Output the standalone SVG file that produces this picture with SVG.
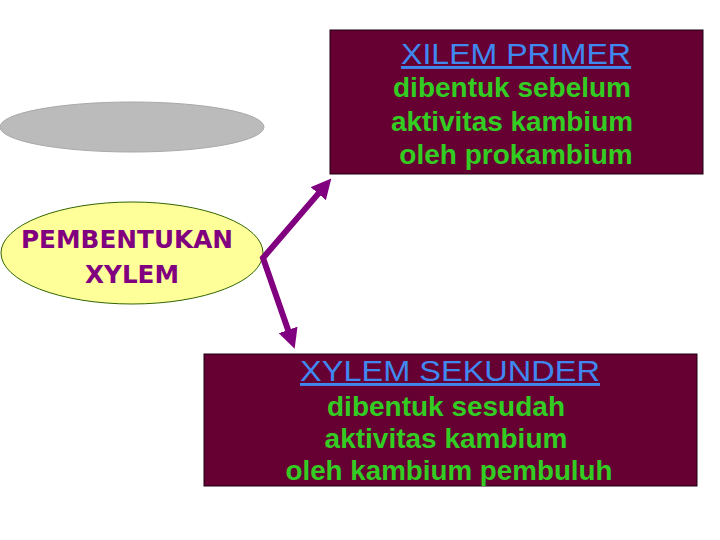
<svg xmlns="http://www.w3.org/2000/svg" width="720" height="540" viewBox="0 0 720 540">
<style>
.box{fill:#660033;stroke:#1a0010;stroke-width:1}
.title{font-family:"Liberation Sans",Arial,sans-serif;font-size:29px;fill:#3f88f0;text-decoration:underline;text-anchor:middle}
.body{font-family:"Liberation Sans",Arial,sans-serif;font-size:28px;font-weight:bold;fill:#33cc22;text-anchor:middle}
.lbl{font-family:"DejaVu Sans",sans-serif;font-size:25px;font-weight:bold;fill:#800080;text-anchor:middle}
.conn{fill:none;stroke:#800080;stroke-width:6;stroke-linejoin:miter}
</style>
<defs>
<marker id="ah" viewBox="0 0 20 20" refX="8" refY="10" markerWidth="20" markerHeight="20" markerUnits="userSpaceOnUse" orient="auto-start-reverse">
<path d="M0,0 L20,10 L0,20 z" fill="#800080"/>
</marker>
</defs>
<rect width="720" height="540" fill="#ffffff"/>
<g id="grey-ellipse">
<ellipse cx="132" cy="127" rx="132" ry="25" fill="#bbbbbb" stroke="#a8a8a8" stroke-width="1"/>
</g>
<g id="pembentukan">
<ellipse cx="132" cy="253" rx="131" ry="51" fill="#ffff99" stroke="#336600" stroke-width="1"/>
<text class="lbl" x="127" y="248" textLength="212" lengthAdjust="spacingAndGlyphs">PEMBENTUKAN</text>
<text class="lbl" x="132" y="283" textLength="94" lengthAdjust="spacingAndGlyphs">XYLEM</text>
</g>
<g id="xilem-primer">
<rect class="box" x="330" y="30" width="373" height="144"/>
<text class="title" x="516" y="64" textLength="230" lengthAdjust="spacingAndGlyphs">XILEM PRIMER</text>
<text class="body" x="512" y="97" textLength="238" lengthAdjust="spacingAndGlyphs">dibentuk sebelum</text>
<text class="body" x="512" y="131" textLength="242" lengthAdjust="spacingAndGlyphs">aktivitas kambium</text>
<text class="body" x="516" y="164">oleh prokambium</text>
</g>
<g id="xylem-sekunder">
<rect class="box" x="204" y="354" width="493" height="132"/>
<text class="title" x="450" y="381" textLength="300" lengthAdjust="spacingAndGlyphs">XYLEM SEKUNDER</text>
<text class="body" x="446" y="416" textLength="238" lengthAdjust="spacingAndGlyphs">dibentuk sesudah</text>
<text class="body" x="446" y="448">aktivitas kambium</text>
<text class="body" x="449" y="480" textLength="327" lengthAdjust="spacingAndGlyphs">oleh kambium pembuluh</text>
</g>
<g id="connectors">
<path class="conn" d="M323.5,187.6 L263,258 L290.7,337.5" marker-start="url(#ah)" marker-end="url(#ah)"/>
</g>
</svg>
